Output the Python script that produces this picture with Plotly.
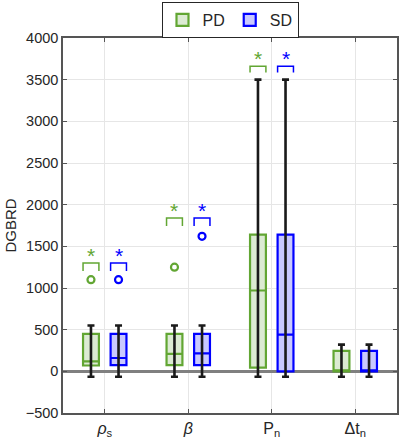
import plotly.graph_objects as go

categories = ["<i>ρ</i><sub>s</sub>", "<i>β</i>", "P<sub>n</sub>", "Δt<sub>n</sub>"]
cat_pos = [1, 2, 3, 4]
offset = 0.165
box_w = 0.19

# PD stats
pd_lower = [-65, -65, -65, -65]
pd_q1 = [70, 75, 45, 0]
pd_median = [120, 210, 970, 0]
pd_q3 = [450, 450, 1640, 245]
pd_upper = [550, 550, 3500, 320]
pd_outliers = [[1100], [1250], [], []]

# SD stats
sd_lower = [-65, -65, -65, -65]
sd_q1 = [75, 75, 0, 0]
sd_median = [160, 215, 440, 0]
sd_q3 = [450, 450, 1640, 245]
sd_upper = [550, 550, 3500, 320]
sd_outliers = [[1100], [1620], [], []]

# significance brackets (top of bracket, leg end)
sig_top = [1300, 1840, 3660, None]
sig_leg = [1205, 1745, 3585, None]
sig_star = [1375, 1915, 3745, None]

yticks = [-500, 0, 500, 1000, 1500, 2000, 2500, 3000, 3500, 4000]

GREEN = "#62a633"
GREEN_FILL = "#dcebd3"
BLUE = "#0000ff"
BLUE_FILL = "#c9c9ff"

fig = go.Figure()

groups = [
    ("PD", -offset, GREEN, GREEN_FILL, pd_lower, pd_q1, pd_median, pd_q3, pd_upper, pd_outliers),
    ("SD", offset, BLUE, BLUE_FILL, sd_lower, sd_q1, sd_median, sd_q3, sd_upper, sd_outliers),
]

# whiskers first (black)
for name, off, col, fill, lo, q1, med, q3, up, outl in groups:
    xs = [p + off for p in cat_pos]
    fig.add_trace(go.Scatter(
        x=xs, y=q1, mode="markers", marker=dict(size=0.1, color="rgba(0,0,0,0)"),
        error_y=dict(type="data", symmetric=False,
                     array=[u - a for u, a in zip(up, q1)],
                     arrayminus=[a - l for a, l in zip(q1, lo)],
                     color="#1a1a1a", thickness=2.6, width=3.5),
        showlegend=False, hoverinfo="skip"))

annotations = []
for name, off, col, fill, lo, q1, med, q3, up, outl in groups:
    xs = [p + off for p in cat_pos]
    fig.add_trace(go.Box(
        name=name, x=xs, q1=q1, median=med, q3=q3,
        lowerfence=q1, upperfence=q3,
        width=box_w, whiskerwidth=0,
        line=dict(color=col, width=2.2), fillcolor=fill,
        boxpoints=False, showlegend=True, hoverinfo="skip"))
    ox, oy = [], []
    for p, vals in zip(cat_pos, outl):
        for v in vals:
            ox.append(p + off)
            oy.append(v)
    fig.add_trace(go.Scatter(
        x=ox, y=oy, mode="markers",
        marker=dict(symbol="circle-open", size=7, color=col, line=dict(width=2.2)),
        showlegend=False, hoverinfo="skip"))
    # significance brackets and stars
    bx, by = [], []
    for p, t, l, s in zip(cat_pos, sig_top, sig_leg, sig_star):
        if t is None:
            continue
        c = p + off
        bx += [c - box_w / 2, c - box_w / 2, c + box_w / 2, c + box_w / 2, None]
        by += [l, t, t, l, None]
        annotations.append(dict(x=c, y=s, xref="x", yref="y", text="*", showarrow=False,
                                font=dict(color=col, size=21, family="Liberation Sans"),
                                yshift=1))
    fig.add_trace(go.Scatter(x=bx, y=by, mode="lines", line=dict(color=col, width=1.5),
                             showlegend=False, hoverinfo="skip"))

fig.update_layout(
    width=399, height=440,
    margin=dict(l=63, r=2, t=38, b=27, autoexpand=False),
    paper_bgcolor="white", plot_bgcolor="white",
    font=dict(family="Liberation Sans, Arial, sans-serif", color="#262626", size=14),
    boxmode="overlay",
    annotations=annotations,
    legend=dict(orientation="h", x=0.5, xanchor="center", y=1.096, yanchor="top",
                bordercolor="#262626", borderwidth=1, font=dict(size=16),
                itemwidth=30, bgcolor="white", tracegroupgap=0),
    xaxis=dict(range=[0.5, 4.5], tickvals=cat_pos, ticktext=categories,
               tickfont=dict(size=16, color="#262626"),
               showgrid=True, gridcolor="#e6e6e6", gridwidth=1,
               showline=True, linecolor="#555555", linewidth=1.5, mirror="ticks",
               ticks="inside", ticklen=4, tickcolor="#555555", zeroline=False),
    yaxis=dict(range=[-500, 4000], tickvals=yticks,
               tickfont=dict(size=14.5, color="#262626"),
               title=dict(text="DGBRD", font=dict(size=15, color="#262626"), standoff=5),
               showgrid=True, gridcolor="#e6e6e6", gridwidth=1,
               showline=True, linecolor="#555555", linewidth=1.5, mirror="ticks",
               ticks="inside", ticklen=4, tickcolor="#555555",
               zeroline=True, zerolinecolor="#808080", zerolinewidth=2.5),
)

fig.write_html("out.html", config={"displayModeBar": False},
               post_script="document.body.style.margin='0';document.body.style.overflow='hidden';")
